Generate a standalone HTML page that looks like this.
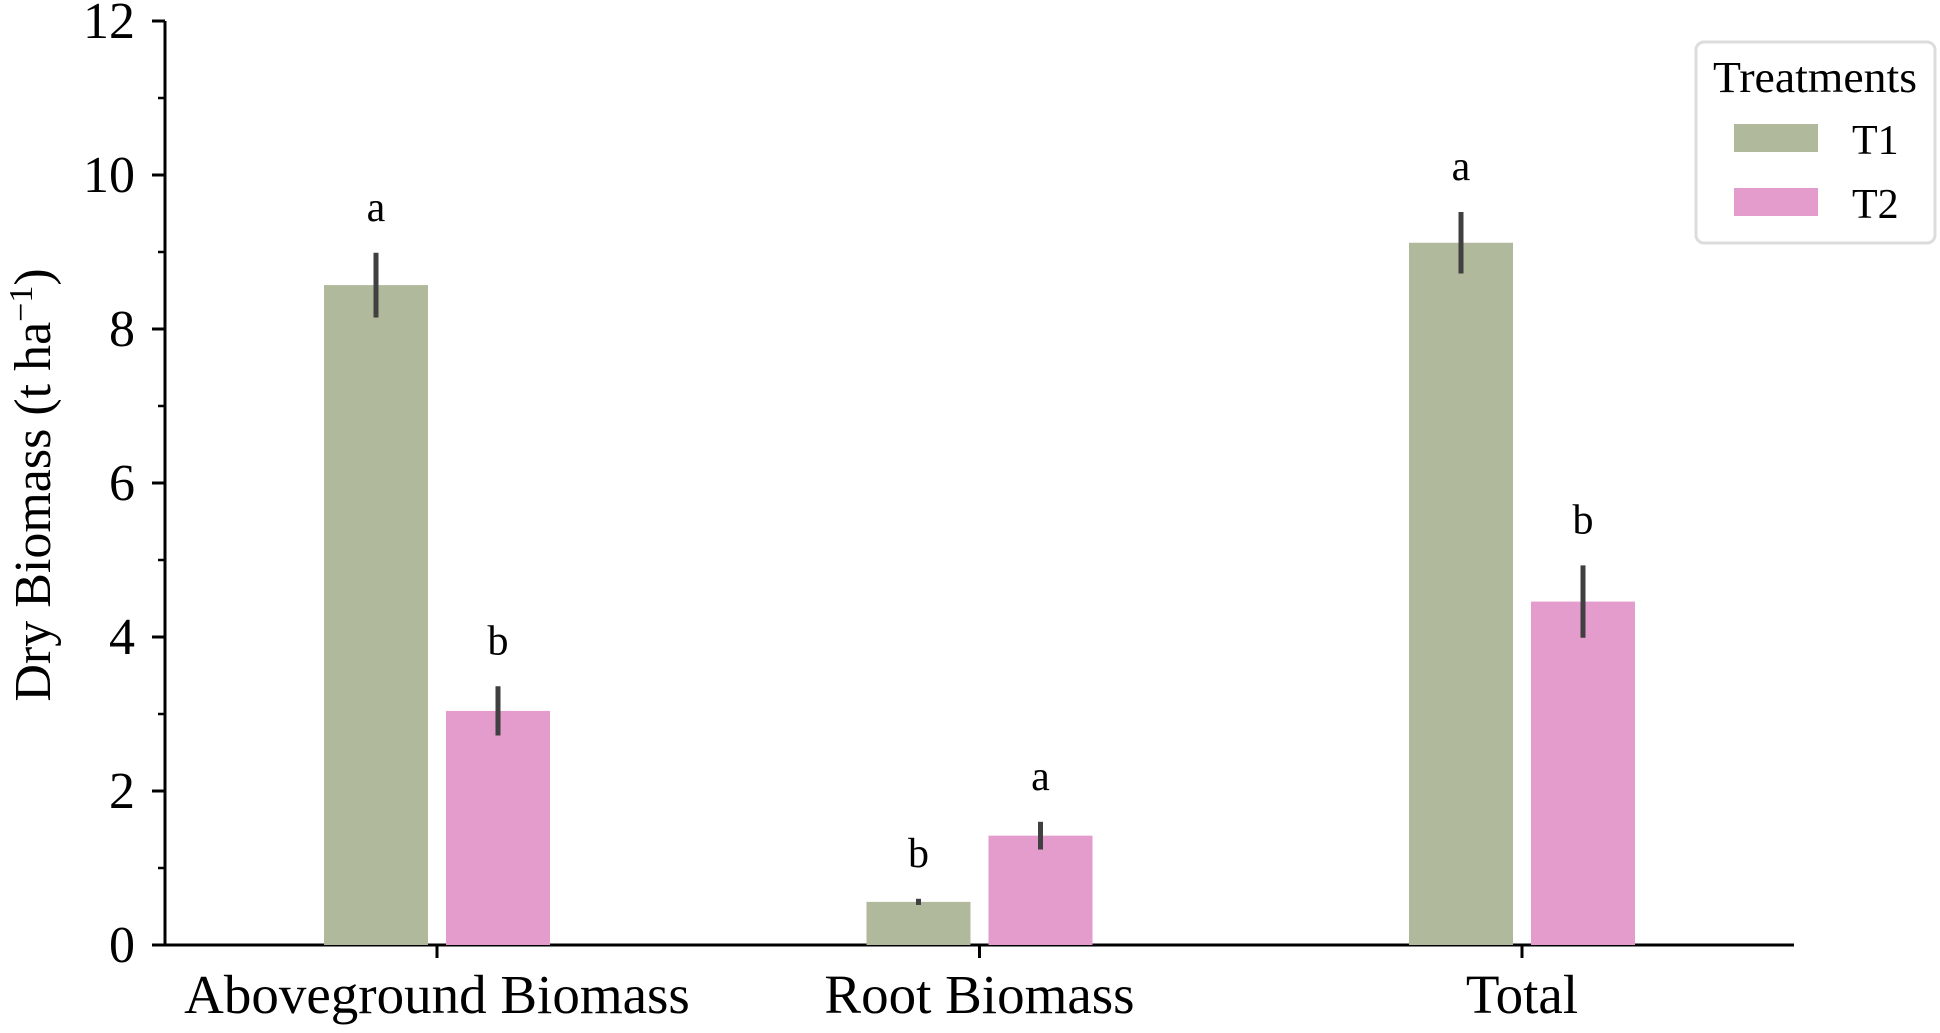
<!DOCTYPE html>
<html><head><meta charset="utf-8"><style>
html,body{margin:0;padding:0;background:#fff;}
svg{display:block;font-family:"Liberation Serif",serif;}
</style></head><body>
<svg id="chart" width="1940" height="1033" viewBox="0 0 1940 1033" xmlns="http://www.w3.org/2000/svg">
<g id="axes"></g><g id="bars"></g>
<g>
<rect x="1696" y="42" width="239" height="201" rx="8" fill="#fff" stroke="#dcdcdc" stroke-width="3"/>
<text x="1815" y="92" font-size="44" text-anchor="middle" textLength="204" lengthAdjust="spacingAndGlyphs">Treatments</text>
<rect x="1734" y="124" width="84" height="28" fill="#b0b99c"/>
<text x="1852" y="154" font-size="42">T1</text>
<rect x="1734" y="188" width="84" height="28" fill="#e49ccc"/>
<text x="1852" y="218" font-size="42">T2</text>
</g>
</svg>
<script>
const categories = ["Aboveground Biomass", "Root Biomass", "Total"];
const t1Values = [8.57, 0.56, 9.12];
const t1Err = [0.42, 0.04, 0.40];
const t2Values = [3.04, 1.42, 4.46];
const t2Err = [0.32, 0.18, 0.47];
const t1Letters = ["a", "b", "a"];
const t2Letters = ["b", "a", "b"];
const yTicks = [0, 2, 4, 6, 8, 10, 12];
const yMinor = [1, 3, 5, 7, 9, 11];

const NS = "http://www.w3.org/2000/svg";
const X0 = 165, X1 = 1794, Y0 = 945, Y12 = 21;
const y = v => Y0 - (Y0 - Y12) * v / 12;
const xc = i => 437 + i * 542.5;
function mk(tag, attrs, parent, text) {
  const e = document.createElementNS(NS, tag);
  for (const k in attrs) e.setAttribute(k, attrs[k]);
  if (text !== undefined) e.textContent = text;
  parent.appendChild(e);
  return e;
}
const axes = document.getElementById('axes'), bars = document.getElementById('bars');
let e;
e = mk('line', {x1: X0, y1: Y12, x2: X0, y2: Y0 + 1.5, stroke: '#000', 'stroke-width': 3}, axes);


e = mk('line', {x1: X0 - 1.5, y1: Y0, x2: X1, y2: Y0, stroke: '#000', 'stroke-width': 3}, axes);


yTicks.forEach(t => {
  e = mk('line', {x1: X0 - 13, y1: y(t), x2: X0, y2: y(t), stroke: '#000', 'stroke-width': 3}, axes);
  
  
  e = mk('text', {x: X0 - 30, y: y(t) + 17, 'font-size': 52, 'text-anchor': 'end'}, axes, String(t));
  
  
});
yMinor.forEach(t => {
  e = mk('line', {x1: X0 - 7, y1: y(t), x2: X0, y2: y(t), stroke: '#000', 'stroke-width': 2.5}, axes);
  
  
});
e = mk('text', {x: 0, y: 0, 'font-size': 52, 'text-anchor': 'middle', transform: 'translate(50,485) rotate(-90)'}, axes);


e.innerHTML = 'Dry Biomass (t ha<tspan dy="-18" font-size="34">−1</tspan><tspan dy="18">)</tspan>';
categories.forEach((c, i) => {
  e = mk('line', {x1: xc(i), y1: Y0, x2: xc(i), y2: Y0 + 13, stroke: '#000', 'stroke-width': 3}, axes);
  
  
  e = mk('text', {x: xc(i), y: 1013, 'font-size': 55, 'text-anchor': 'middle'}, axes, c);
  
  
});
function series(vals, errs, letters, off, color, name) {
  vals.forEach((v, i) => {
    const cx = xc(i) + off;
    e = mk('rect', {x: cx - 52, y: y(v), width: 104, height: Y0 - y(v), fill: color}, bars);
    
    
    e = mk('line', {x1: cx, y1: y(v + errs[i]), x2: cx, y2: y(v - errs[i]), stroke: '#404040', 'stroke-width': 5}, bars);
    
    
    e = mk('text', {x: cx, y: y(v + errs[i]) - 32, 'font-size': 42, 'text-anchor': 'middle'}, bars, letters[i]);
    
    
  });
}
series(t1Values, t1Err, t1Letters, -61, '#b0b99c', 't1');
series(t2Values, t2Err, t2Letters, 61, '#e49ccc', 't2');
</script>
</body></html>
